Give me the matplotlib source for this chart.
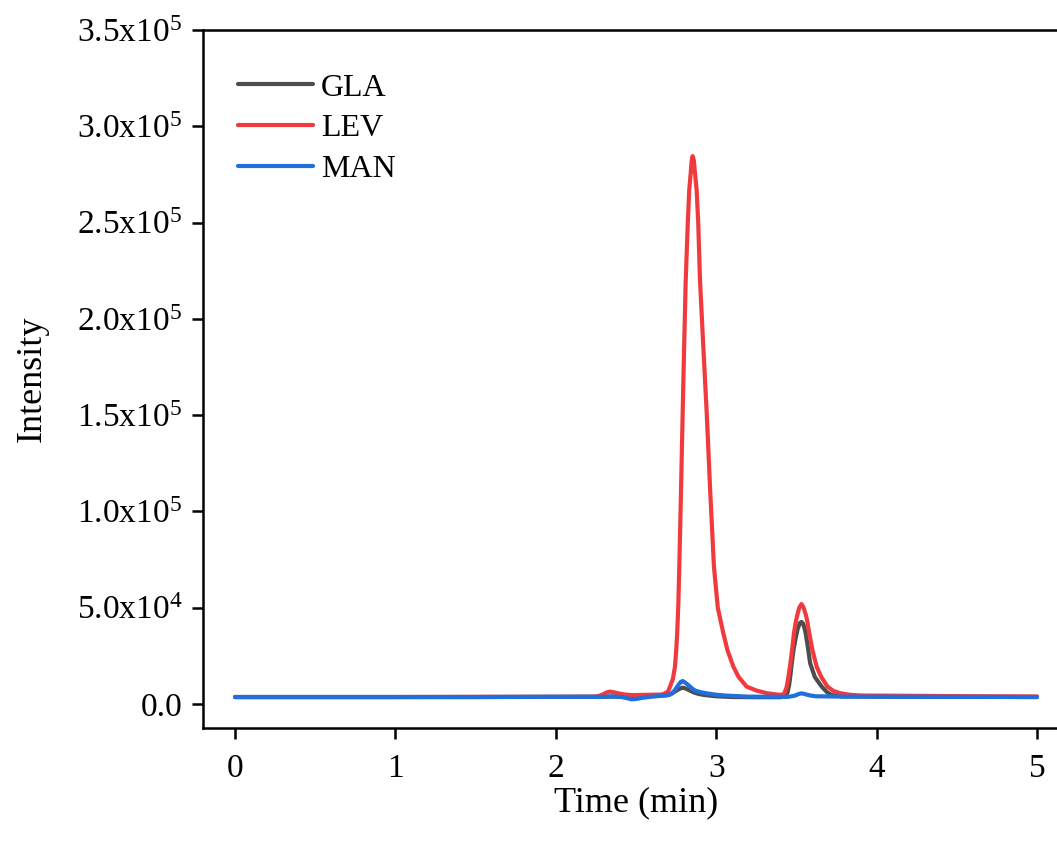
import matplotlib
matplotlib.use("Agg")
import matplotlib.pyplot as plt

plt.rcParams["font.family"] = ["Liberation Serif", "DejaVu Serif"]
plt.rcParams["mathtext.fontset"] = "custom"
plt.rcParams["mathtext.rm"] = "Liberation Serif"
plt.rcParams["mathtext.it"] = "Liberation Serif:italic"

# chromatogram traces (time in min, intensity in counts)
gla_t = [0.0, 0.5, 1.0, 1.5, 2.0, 2.3, 2.45, 2.6, 2.68, 2.71, 2.74, 2.77, 2.791,
         2.81, 2.835, 2.86, 2.89, 2.93, 3.0, 3.1, 3.25, 3.4, 3.43, 3.445, 3.455,
         3.463, 3.471, 3.482, 3.495, 3.508, 3.522, 3.532, 3.543, 3.555, 3.567,
         3.586, 3.615, 3.658, 3.69, 3.72, 3.78, 4.0, 4.5, 5.0]
gla_i = [3.6e3, 3.6e3, 3.6e3, 3.6e3, 3.7e3, 3.8e3, 3.9e3, 4.1e3, 4.4e3, 4.8e3,
         6.3e3, 7.8e3, 8.5e3, 8.0e3, 7.0e3, 6.0e3, 5.2e3, 4.6e3, 4.0e3, 3.6e3,
         3.5e3, 3.5e3, 4.0e3, 6.0e3, 10.0e3, 15.0e3, 21.1e3, 28.0e3, 34.0e3,
         39.0e3, 42.0e3, 42.6e3, 41.5e3, 38.0e3, 32.0e3, 21.1e3, 14.0e3, 9.0e3,
         6.2e3, 4.6e3, 4.0e3, 3.8e3, 3.7e3, 3.6e3]

lev_t = [0.0, 0.5, 1.0, 1.5, 2.0, 2.24, 2.27, 2.30, 2.32, 2.338, 2.36, 2.39,
         2.43, 2.48, 2.6, 2.66, 2.68, 2.70, 2.712, 2.73, 2.743, 2.75, 2.757,
         2.764, 2.77, 2.78, 2.791, 2.80, 2.81, 2.823, 2.832, 2.841, 2.847, 2.853,
         2.861, 2.868, 2.878, 2.888, 2.899, 2.92, 2.941, 2.963, 2.986, 3.01,
         3.044, 3.07, 3.107, 3.14, 3.19, 3.25, 3.315, 3.37, 3.408, 3.425, 3.44,
         3.45, 3.46, 3.473, 3.485, 3.495, 3.505, 3.518, 3.532, 3.545, 3.56,
         3.57, 3.58, 3.60, 3.626, 3.655, 3.694, 3.73, 3.772, 3.83, 3.9, 4.27,
         4.6, 5.0]
lev_i = [3.6e3, 3.6e3, 3.6e3, 3.7e3, 3.7e3, 3.7e3, 4.2e3, 5.2e3, 6.1e3, 6.4e3,
         6.1e3, 5.5e3, 4.9e3, 4.6e3, 4.8e3, 4.9e3, 5.5e3, 6.5e3, 9.0e3, 13.0e3,
         19.4e3, 27.0e3, 36.9e3, 52.0e3, 71.3e3, 108e3, 151e3, 185e3, 220e3,
         250e3, 266.9e3, 275.6e3, 282e3, 284.5e3, 282e3, 275.6e3, 266.9e3,
         250e3, 220e3, 185e3, 151e3, 110e3, 71.3e3, 50e3, 36.9e3, 28e3, 19.4e3,
         14e3, 9.0e3, 7.0e3, 5.6e3, 5.0e3, 4.7e3, 5.5e3, 9.0e3, 14e3, 19.4e3,
         28e3, 36.9e3, 42e3, 46.0e3, 50e3, 51.9e3, 50e3, 46.0e3, 42e3, 36.9e3,
         28e3, 19.4e3, 14e3, 9.0e3, 6.8e3, 5.6e3, 4.8e3, 4.4e3, 4.2e3, 4.0e3,
         3.9e3]

man_t = [0.0, 0.5, 1.0, 1.5, 2.0, 2.30, 2.36, 2.41, 2.45, 2.473, 2.50, 2.54,
         2.60, 2.70, 2.725, 2.745, 2.765, 2.78, 2.791, 2.805, 2.83, 2.85, 2.87,
         2.91, 2.95, 3.0, 3.05, 3.2, 3.45, 3.49, 3.515, 3.53, 3.55, 3.58, 3.62,
         3.8, 4.5, 5.0]
man_i = [3.6e3, 3.6e3, 3.6e3, 3.6e3, 3.7e3, 3.7e3, 3.9e3, 3.6e3, 2.9e3, 2.4e3,
         2.6e3, 3.2e3, 3.8e3, 4.6e3, 5.5e3, 7.5e3, 10.0e3, 11.5e3, 11.9e3,
         11.2e3, 9.5e3, 8.0e3, 6.9e3, 6.0e3, 5.4e3, 4.8e3, 4.4e3, 3.8e3, 3.7e3,
         4.3e3, 5.2e3, 5.5e3, 5.2e3, 4.5e3, 4.0e3, 3.8e3, 3.7e3, 3.6e3]

series = [
    ("GLA", gla_t, gla_i, "#4d4d4d"),
    ("LEV", lev_t, lev_i, "#f03a3e"),
    ("MAN", man_t, man_i, "#1f6fdc"),
]

x_ticks = [0, 1, 2, 3, 4, 5]
y_ticks = [0, 5e4, 1e5, 1.5e5, 2e5, 2.5e5, 3e5, 3.5e5]
y_tick_labels = ["0.0", r"5.0x10$^{4}$", r"1.0x10$^{5}$", r"1.5x10$^{5}$",
                 r"2.0x10$^{5}$", r"2.5x10$^{5}$", r"3.0x10$^{5}$", r"3.5x10$^{5}$"]

fig = plt.figure(figsize=(10.57, 8.44), dpi=100)
ax = fig.add_axes([0.192, 0.1374, 0.8194, 0.8271])

for name, t, inten, color in series:
    ax.plot(t, inten, color=color, lw=3.0, label=name,
            solid_capstyle="round", solid_joinstyle="round")

ax.set_xlim(-0.2, 5.2)
ax.set_ylim(-1.25e4, 3.5e5)
ax.set_xticks(x_ticks)
ax.set_xticklabels([str(v) for v in x_ticks])
ax.set_yticks(y_ticks)
ax.set_yticklabels(y_tick_labels)

for side in ["left", "bottom", "top"]:
    ax.spines[side].set_linewidth(1.8)
ax.spines["right"].set_visible(False)
ax.tick_params(axis="both", direction="out", length=8, width=1.8,
               labelsize=24, top=False, right=False)
ax.tick_params(axis="x", pad=10)
ax.tick_params(axis="y", pad=7)

ax.set_xlabel("Time (min)", fontsize=26, labelpad=2)
ax.set_ylabel("Intensity", fontsize=26, labelpad=20)

ax.legend(loc="upper left", bbox_to_anchor=(0.04, 0.938), frameon=False,
          fontsize=23, handlelength=2.35, handletextpad=0.25, labelspacing=0.35,
          borderaxespad=0, borderpad=0)

fig.savefig("out.png", dpi=100)
